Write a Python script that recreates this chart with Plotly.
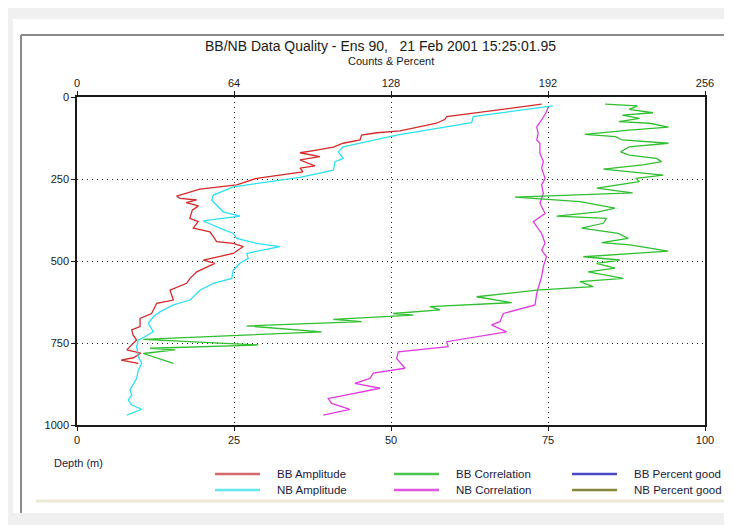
import plotly.graph_objects as go

# ---------------- data (depth in m, values in counts 0-256) ----------------
bb_amp_depth = [22, 50, 60, 68, 80, 103, 109, 116, 131, 141, 153, 162, 170, 182, 192, 210, 217, 228, 248, 268,
                281, 302, 309, 314, 322, 332, 345, 370, 380, 400, 411, 426, 441, 446, 456, 477, 497, 507, 533, 553,
                568, 589, 619, 629, 660, 675, 700, 710, 726, 741, 771, 781, 795, 802, 812]
bb_amp = [189.4, 160.2, 150.7, 150, 146.6, 131.7, 122.2, 116, 115.4, 108.5, 104.5, 97.7, 90.9, 99, 90.9, 97, 90.9,
          92.1, 73.2, 65.1, 50.1, 40.6, 42, 48.8, 44.5, 49.5, 47, 46, 49.4, 47.4, 54.2, 55.6, 56.9, 63.7, 67.8, 63.7,
          51.5, 56.2, 48.8, 46.1, 44.7, 37.9, 39.3, 32.5, 30.4, 25.7, 25.7, 22.3, 22.9, 24.3, 20.3, 26, 23, 18, 25]

nb_amp_depth = [27, 60, 78, 116, 152, 167, 187, 197, 223, 245, 274, 299, 314, 329, 350, 363, 378, 400, 416, 431,
                446, 456, 477, 492, 507, 528, 553, 568, 589, 619, 634, 655, 670, 690, 716, 731, 741, 761, 792, 812,
                832, 858, 893, 909, 924, 939, 952, 970]
nb_amp = [193.9, 161.5, 160.9, 130.3, 108.5, 106.5, 108.5, 105.2, 104.5, 90.9, 63.7, 55.6, 54.9, 56.9, 59.6, 66.4,
          51.5, 58.3, 63.7, 65.1, 73.2, 82.7, 69.2, 69.8, 66.4, 63.7, 63.1, 55.6, 50.1, 46.1, 39.3, 33.8, 31.1, 29.1,
          31.1, 27.7, 25, 24.3, 25, 26.4, 25, 24.3, 21.6, 22.3, 20.9, 22.3, 26.4, 20.3]

bb_corr_depth = [22, 27, 38, 48, 55, 65, 75, 80, 92, 101, 114, 121, 131, 141, 152, 167, 177, 187, 197, 207, 220,
                 228, 238, 248, 258, 278, 292, 305, 319, 339, 350, 363, 370, 385, 400, 416, 431, 444, 451, 470, 487,
                 497, 507, 522, 533, 553, 563, 578, 589, 609, 627, 639, 649, 660, 665, 678, 685, 698, 716, 739, 756,
                 766, 771, 782, 812]
bb_corr = [215.3, 228.5, 225.1, 234.8, 222.3, 229.3, 220.9, 233.4, 241.1, 225.1, 207, 219.5, 222.3, 241.1, 225.1,
           221.6, 225.1, 236.2, 238.3, 230.7, 214.6, 226.5, 239, 227.8, 229.3, 211.9, 226.5, 178.5, 205, 219.3,
           212.5, 195.5, 215.9, 214.5, 205.7, 220.6, 224.7, 213.9, 225.4, 241, 206.4, 221.3, 211.8, 219.3, 208.4,
           222.7, 205, 210.4, 187.4, 162.9, 177.2, 143.9, 148, 128.9, 137.1, 104.5, 116, 69.2, 99.7, 27, 73.9,
           29.8, 39.9, 27, 39.3]

nb_corr_depth = [30, 45, 70, 91, 111, 131, 141, 172, 197, 217, 248, 268, 294, 324, 355, 380, 416, 446, 467, 487,
                 517, 548, 583, 599, 634, 660, 685, 695, 716, 746, 761, 777, 797, 827, 842, 858, 873, 888, 914, 919,
                 934, 952, 970]
nb_corr = [192.1, 191.4, 189.4, 187.4, 188, 187.4, 188.7, 188.7, 190.1, 189.4, 190.8, 189.4, 190.1, 188.7, 190.8,
           186, 189.4, 190.8, 189.4, 191.4, 190.1, 189.4, 188, 187.4, 186.7, 173.8, 172.4, 169, 175.1, 150.7,
           151.3, 131, 130.3, 133.7, 120.8, 119.4, 113.3, 123.5, 105.9, 102.4, 103.8, 111.3, 100.4]

# percent-good series carry no samples in this ensemble (legend only)
bb_pg_depth, bb_pg = [None], [None]
nb_pg_depth, nb_pg = [None], [None]

count_ticks = [0, 64, 128, 192, 256]
pct_ticks = [0, 25, 50, 75, 100]
depth_ticks = [0, 250, 500, 750, 1000]

legend_names = ["BB Amplitude", "BB Correlation", "BB Percent good",
                "NB Amplitude", "NB Correlation", "NB Percent good"]
legend_colors = ["#d46a6a", "#4cc44c", "#4a4ac8", "#66e6f2", "#e055e0", "#86863a"]

title_text = "BB/NB Data Quality - Ens 90,   21 Feb 2001 15:25:01.95"
subtitle_text = "Counts & Percent"
ylabel_text = "Depth (m)"

# ---------------- figure ----------------
# page offset of the figure inside the browser body (default body margin)
OX, OY = 8, 8
PW, PH = 732, 525
W, H = PW - OX, PH - OY
# plot area in page pixels
L, R, T, B = 77, 705, 97, 425
FONT = "Liberation Sans Narrow, Arial Narrow, Liberation Sans, Arial, sans-serif"


def pp(x, y):
    return (x - L) / (R - L), (B - y) / (B - T)


fig = go.Figure()
# percent-good traces on the percent (bottom) axis
fig.add_trace(go.Scatter(x=bb_pg, y=bb_pg_depth, mode="lines", name="BB Percent good", xaxis="x", yaxis="y",
                         line=dict(color="#3030c0", width=1.3), showlegend=False))
fig.add_trace(go.Scatter(x=nb_pg, y=nb_pg_depth, mode="lines", name="NB Percent good", xaxis="x", yaxis="y",
                         line=dict(color="#808030", width=1.3), showlegend=False))
series = [
    (bb_amp, bb_amp_depth, "#d42a2a", "BB Amplitude"),
    (nb_amp, nb_amp_depth, "#2fe0ee", "NB Amplitude"),
    (nb_corr, nb_corr_depth, "#e03ce0", "NB Correlation"),
    (bb_corr, bb_corr_depth, "#2fbf2f", "BB Correlation"),
]
for xs, ys, col, name in series:
    fig.add_trace(go.Scatter(x=xs, y=ys, mode="lines", name=name, xaxis="x2", yaxis="y",
                             line=dict(color=col, width=1.3), showlegend=False))

axis_common = dict(showline=True, linecolor="#1a1a1a", linewidth=1.5, ticks="outside", ticklen=4,
                   tickcolor="#1a1a1a", zeroline=False,
                   tickfont=dict(family=FONT, size=11, color="#1a1a1a"))
grid = dict(showgrid=True, gridcolor="#222222", gridwidth=1, griddash="1px,4px")

fig.update_layout(
    width=W, height=H,
    margin=dict(l=L - OX, r=PW - R, t=T - OY, b=PH - B),
    paper_bgcolor="#f0f0f0", plot_bgcolor="white",
    showlegend=False,
    xaxis=dict(range=[0, 100], tickvals=pct_ticks, side="bottom", anchor="y", showgrid=False, **axis_common),
    xaxis2=dict(range=[0, 256], tickvals=count_ticks, side="top", overlaying="x", anchor="y",
                **grid, **axis_common),
    yaxis=dict(range=[1000, 0], tickvals=depth_ticks, mirror=True, **grid, **axis_common),
)

shapes = []
# panel background and frame
x0, y0 = pp(13, 19)
x1, y1 = pp(727, 513)
shapes.append(dict(type="rect", xref="paper", yref="paper", x0=x0, y0=y1, x1=x1, y1=y0,
                   fillcolor="white", line=dict(width=0), layer="below"))
a, b_ = pp(21, 35)
c, d = pp(732, 35)
shapes.append(dict(type="line", xref="paper", yref="paper", x0=a, y0=b_, x1=c, y1=d,
                   line=dict(color="#8a8a8a", width=2)))
a2, b2 = pp(21, 513)
shapes.append(dict(type="line", xref="paper", yref="paper", x0=a, y0=b_, x1=a2, y1=b2,
                   line=dict(color="#8a8a8a", width=2)))
e, f = pp(36, 501)
g, h = pp(732, 501)
shapes.append(dict(type="line", xref="paper", yref="paper", x0=e, y0=f, x1=g, y1=h,
                   line=dict(color="#ebe8d6", width=3)))

annotations = []
tx, ty = pp(380, 46)
annotations.append(dict(text=title_text, x=tx, y=ty, xref="paper", yref="paper", showarrow=False,
                        xanchor="center", yanchor="middle",
                        font=dict(family=FONT, size=14, color="#1a1a1a")))
sx, sy = pp(391, 61)
annotations.append(dict(text=subtitle_text, x=sx, y=sy, xref="paper", yref="paper", showarrow=False,
                        xanchor="center", yanchor="middle",
                        font=dict(family=FONT, size=11, color="#1a1a1a")))
lx, ly = pp(52, 463)
annotations.append(dict(text=ylabel_text, x=lx, y=ly, xref="paper", yref="paper", showarrow=False,
                        xanchor="left", yanchor="middle",
                        font=dict(family=FONT, size=11, color="#1a1a3a")))

# custom legend: 3 columns x 2 rows
col_x = [215, 394, 572]
row_y = [474, 490]
for i, (name, col) in enumerate(zip(legend_names, legend_colors)):
    r_, c_ = divmod(i, 3)
    xa, ya = pp(col_x[c_], row_y[r_])
    xb, _ = pp(col_x[c_] + 45, row_y[r_])
    shapes.append(dict(type="line", xref="paper", yref="paper", x0=xa, y0=ya, x1=xb, y1=ya,
                       line=dict(color=col, width=2.5)))
    xt, _ = pp(col_x[c_] + 60, row_y[r_])
    annotations.append(dict(text=name, x=xt, y=ya, xref="paper", yref="paper", showarrow=False,
                            xanchor="left", yanchor="middle",
                            font=dict(family=FONT, size=11.5, color="#1a1a3a")))

fig.update_layout(shapes=shapes, annotations=annotations)
fig.write_html("out.html")
